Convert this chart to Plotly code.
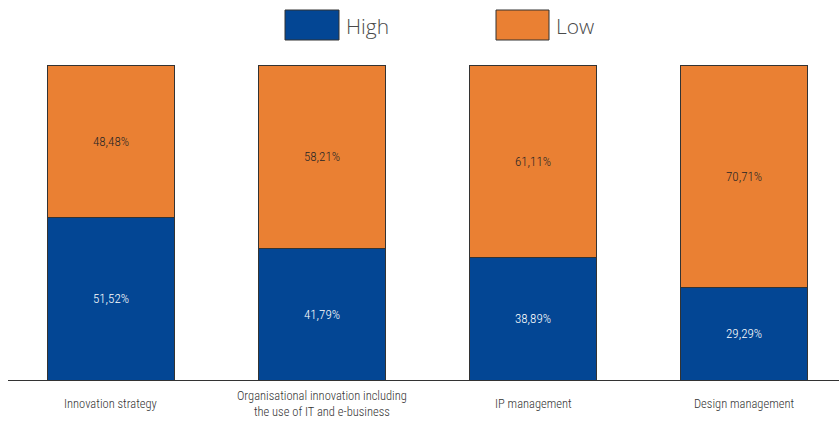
import plotly.graph_objects as go

# Data
categories = [
    "Innovation strategy",
    "Organisational innovation including<br>the use of IT and e-business",
    "IP management",
    "Design management",
]
series_names = ["High", "Low"]
high_values = [51.52, 41.79, 38.89, 29.29]
low_values = [48.48, 58.21, 61.11, 70.71]

colors = ["#034694", "#EA8033"]
text_colors = ["#ffffff", "#262626"]
narrow = "Roboto Condensed, sans-serif"


def fmt(v):
    return f"{v:.2f}".replace(".", ",") + "%"


x_pos = list(range(len(categories)))

fig = go.Figure()
for name, vals, col, tcol in zip(series_names, [high_values, low_values], colors, text_colors):
    fig.add_trace(go.Bar(
        x=x_pos,
        y=vals,
        name=name,
        width=0.6,
        marker=dict(color=col, line=dict(color="#333333", width=1)),
        text=[fmt(v) for v in vals],
        textposition="inside",
        insidetextanchor="middle",
        textfont=dict(family=narrow, size=13, color=tcol, weight=300),
        showlegend=False,
    ))

# Category labels under the axis
for i, cat in enumerate(categories):
    fig.add_annotation(
        x=i, y=-0.076, xref="x", yref="paper",
        text=cat, showarrow=False,
        xanchor="center", yanchor="middle",
        font=dict(family=narrow, size=12.5, color="#333333", weight=300),
    )

# Legend: large swatches with labels
legend_items = [(285, 339), (496, 549)]
for (x0, x1), name, col in zip(legend_items, series_names, colors):
    fig.add_shape(
        type="rect", xref="paper", yref="paper",
        x0=(x0 - 8) / 831, x1=(x1 - 8) / 831,
        y0=(380 - 40) / 315, y1=(380 - 10) / 315,
        fillcolor=col, line=dict(color="#333333", width=1),
    )
    fig.add_annotation(
        x=(x1 + 5 - 8) / 831, y=(380 - 26) / 315, xref="paper", yref="paper",
        text=name, showarrow=False, xanchor="left", yanchor="middle",
        font=dict(family="Open Sans, sans-serif", size=21, color="#4a4a4a", weight=300),
    )

fig.update_layout(
    width=839, height=430,
    margin=dict(l=8, r=0, t=65, b=50),
    paper_bgcolor="white", plot_bgcolor="white",
    barmode="stack",
    xaxis=dict(
        range=[-0.488, 3.45], showticklabels=False, ticks="",
        showgrid=False, zeroline=False,
        showline=True, linecolor="#333333", linewidth=1,
    ),
    yaxis=dict(
        range=[0, 100], visible=False, showgrid=False, zeroline=False,
    ),
    uniformtext=dict(mode=False),
)

fig.write_html("out.html")
